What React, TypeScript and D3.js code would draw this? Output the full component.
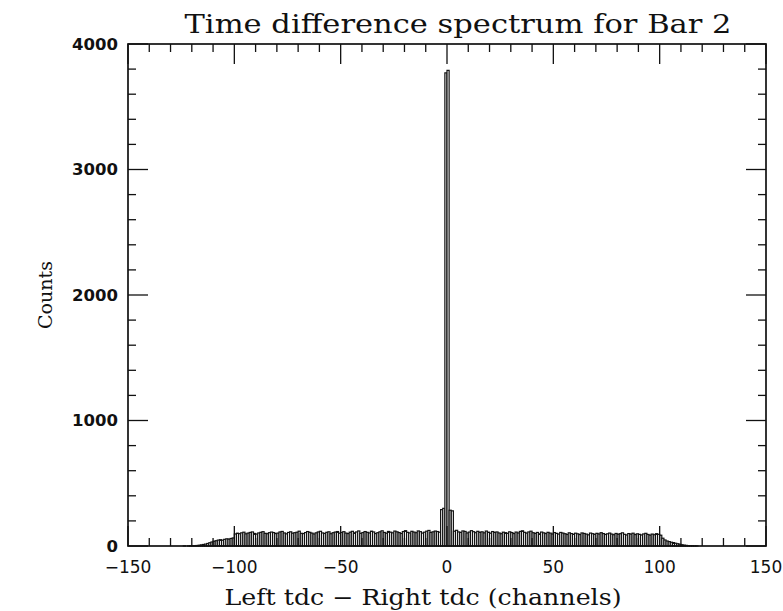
import React from "react";
import * as d3 from "d3";

// Histogram of (left tdc - right tdc), 1 channel per bin, starting at channel -150
const firstChannel = -150;
const leftTail = [0,0,0,0,0,0,0,0,0,0, 0,0,0,0,0,0,0,0,0,0, 0,0,0,0,0,0,1,0,1,2, 2,3];
const leftRamp = [4,6,9,12,15,20,26,32];
const leftEdge = [38,42,47,50,46,53,57,55,60,64];
const leftPlateauA = [96,102,98,105,110,97,103,108,112,100, 95,104,109,114,101,98,106,111,107,99, 103,112,116,104,97,108,113,102,106,110, 118,101,99,107,115,109,103,96,105,112, 117,104,100,109,113,98,106,111,115,102];
const leftPlateauB = [108,114,103,99,110,117,105,112,120,101, 107,115,109,104,118,112,99,106,113,121, 108,102,116,110,105,119,113,107,100,115, 122,109,104,117,111,106,120,114,103,110, 118,124,108,113,119,115,110];
const peak = [290,300,3770,3790,285,280];
const rightPlateauA = [118,125,112,108,120,116,104,111,122,114, 106,117,109,113,105,119,110,102,115,108, 112,104,98,110,106,101,113,107,99,111, 104,116,121,109,103,112,118,106,100,108, 97,111,105,99,109,103,96,107];
const rightPlateauB = [101,95,108,103,98,92,105,99,94,102, 97,91,104,100,95,89,103,98,93,101, 96,106,99,92,97,103,95,90,100,94, 98,105,93,88,99,95,102,91,97,93, 88,96,101,92,87,95,90,98,93,86];
const rightRamp = [62,48,40,35,30,27,22,18,14,10,7,5];
const rightTail = [3,2,2,1,1,0,0,0,0,0, 0,0,0,0,0,0,0,0,0,0, 0,0,0,0,0,0,0,0,0,0, 0,0,0,0,0,0,0];

const xTickLabels = [-150, -100, -50, 0, 50, 100, 150];
const yTickLabels = [0, 1000, 2000, 3000, 4000];

const title = "Time difference spectrum for Bar 2";
const xTitle = "Left tdc \u2212 Right tdc (channels)";
const yTitle = "Counts";

const counts = [
  ...leftTail, ...leftRamp, ...leftEdge, ...leftPlateauA, ...leftPlateauB,
  ...peak, ...rightPlateauA, ...rightPlateauB, ...rightRamp, ...rightTail,
];
const bins = counts.map((v, i) => ({ x0: firstChannel + i, x1: firstChannel + i + 1, v }));

const W = 783, H = 611;
const L = 128, R = 766, T = 44, B = 546;

export default function App() {
  const x = d3.scaleLinear().domain([-150, 150]).range([L, R]);
  const y = d3.scaleLinear().domain([0, 4000]).range([B, T]);
  const xMinor = d3.range(-150, 151, 10);
  const yMinor = d3.range(0, 4001, 200);
  const fmt = (v: number) => (v < 0 ? "\u2212" + Math.abs(v) : String(v));
  const minorLen = 8, majLen = 20;
  return (
    <svg width={W} height={H} style={{ position: "absolute", left: 0, top: 0, background: "#fff" }}>
      <rect x={0} y={0} width={W} height={H} fill="#fff" />
      {/* bars */}
      <g>
        {bins.filter(b => b.v > 0).map((b, i) => (
          <rect key={i} x={x(b.x0)} y={y(b.v)} width={x(b.x1) - x(b.x0)} height={y(0) - y(b.v)}
            fill="#fff" stroke="#111" strokeWidth={1.2} />
        ))}
      </g>
      {/* ticks */}
      <g stroke="#111" strokeWidth={1.3}>
        {xMinor.map(v => {
          const len = v % 50 === 0 ? majLen : minorLen;
          return (
            <g key={"x" + v}>
              <line x1={x(v)} x2={x(v)} y1={B} y2={B - len} />
              <line x1={x(v)} x2={x(v)} y1={T} y2={T + len} />
            </g>
          );
        })}
        {yMinor.map(v => {
          const len = v % 1000 === 0 ? majLen : minorLen;
          return (
            <g key={"y" + v}>
              <line x1={L} x2={L + len} y1={y(v)} y2={y(v)} />
              <line x1={R} x2={R - len} y1={y(v)} y2={y(v)} />
            </g>
          );
        })}
      </g>
      {/* frame */}
      <rect x={L} y={T} width={R - L} height={B - T} fill="none" stroke="#111" strokeWidth={1.7} />
      {/* tick labels */}
      <g fontFamily="DejaVu Sans" fontSize={17} fill="#111" textAnchor="middle">
        {xTickLabels.map(v => (
          <text key={v} x={x(v)} y={573}>{fmt(v)}</text>
        ))}
      </g>
      <g fontFamily="DejaVu Sans" fontWeight="bold" fontSize={16.5} fill="#111" textAnchor="end">
        {yTickLabels.map(v => (
          <text key={v} x={118} y={y(v)} dy="0.36em">{v}</text>
        ))}
      </g>
      {/* titles */}
      <text x={458} y={33} textAnchor="middle" fontFamily="DejaVu Serif" fontSize={26} textLength={547} lengthAdjust="spacingAndGlyphs" fill="#111">{title}</text>
      <text x={423} y={605} textAnchor="middle" fontFamily="DejaVu Serif" fontSize={22} textLength={397} lengthAdjust="spacingAndGlyphs" fill="#111">{xTitle}</text>
      <text transform={`translate(52,${(T + B) / 2}) rotate(-90)`} textAnchor="middle" fontFamily="DejaVu Serif" fontSize={19} fill="#111">{yTitle}</text>
    </svg>
  );
}
